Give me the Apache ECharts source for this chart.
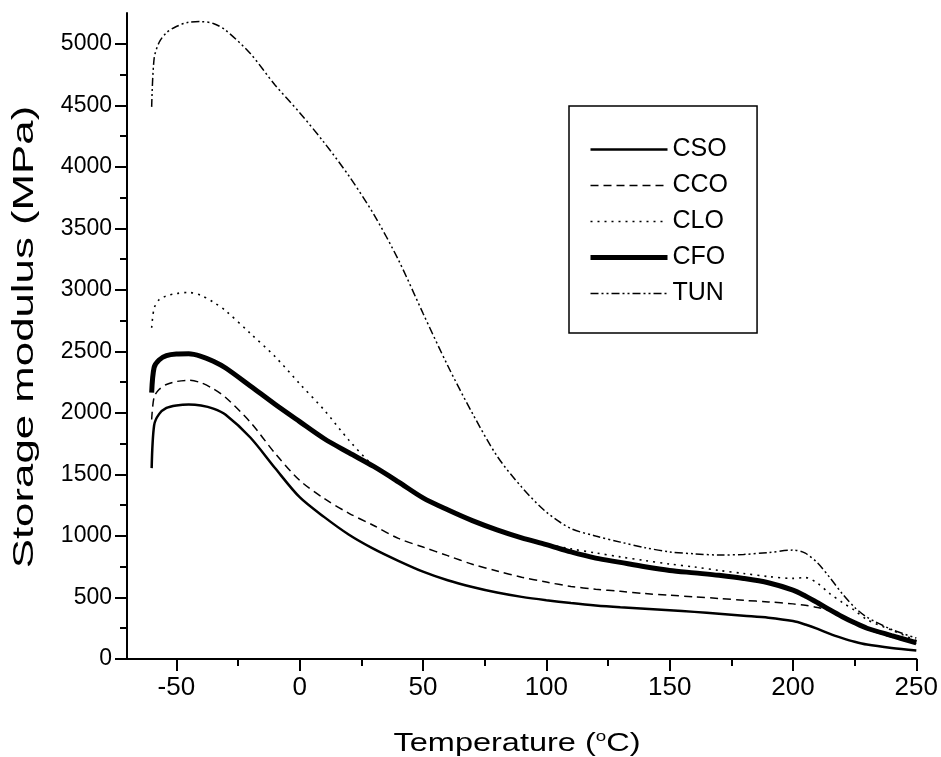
<!DOCTYPE html>
<html>
<head>
<meta charset="utf-8">
<script src="https://cdn.jsdelivr.net/npm/echarts@6/dist/echarts.min.js"></script>
<style>html,body{margin:0;padding:0;background:#fff;}#c{width:941px;height:757px;}</style>
</head>
<body>
<div id="c"></div>
<script>
// ---- data ----
var temps = [-60, -59, -57, -54, -50, -45, -40, -35, -30, -20, -10, 0, 10, 20, 30, 40, 50, 60, 70, 80, 90, 100, 110, 120, 130, 140, 150, 160, 170, 180, 190, 200, 205, 210, 215, 220, 225, 230, 240, 250];
var CSO = [1551, 1900, 1990, 2040, 2060, 2068, 2060, 2035, 1985, 1800, 1552, 1315, 1153, 1010, 895, 798, 710, 640, 585, 540, 505, 478, 455, 435, 420, 408, 396, 383, 368, 352, 336, 308, 280, 245, 204, 170, 140, 117, 90, 70];
var CCO = [1946, 2130, 2190, 2231, 2255, 2265, 2245, 2195, 2125, 1925, 1672, 1452, 1303, 1184, 1085, 980, 910, 840, 770, 715, 665, 625, 590, 567, 550, 532, 518, 505, 492, 477, 464, 448, 436, 418, 392, 338, 288, 242, 178, 125];
var CLO = [2692, 2850, 2920, 2951, 2970, 2979, 2955, 2900, 2830, 2646, 2458, 2237, 2022, 1778, 1570, 1445, 1315, 1218, 1130, 1055, 990, 935, 895, 862, 830, 800, 772, 748, 720, 695, 670, 655, 662, 615, 530, 460, 395, 320, 235, 150];
var CFO = [2164, 2370, 2430, 2465, 2478, 2480, 2460, 2420, 2365, 2219, 2070, 1929, 1790, 1676, 1565, 1440, 1310, 1213, 1125, 1050, 985, 930, 870, 820, 785, 750, 720, 700, 680, 655, 620, 560, 512, 457, 399, 344, 294, 250, 190, 132];
var TUN = [4487, 4880, 5010, 5090, 5140, 5175, 5180, 5165, 5110, 4920, 4665, 4440, 4195, 3925, 3615, 3245, 2810, 2385, 1998, 1650, 1397, 1194, 1060, 1000, 950, 905, 870, 855, 845, 850, 865, 885, 860, 780, 660, 530, 420, 340, 240, 170];
var seriesNames = ['CSO', 'CCO', 'CLO', 'CFO', 'TUN'];
var xMajor = [-50, 0, 50, 100, 150, 200, 250];
var xMinor = [-25, 25, 75, 125, 175, 225];
var yMajor = [0, 500, 1000, 1500, 2000, 2500, 3000, 3500, 4000, 4500, 5000];
var yMinor = [250, 750, 1250, 1750, 2250, 2750, 3250, 3750, 4250, 4750];
var xTitle = '{a|Temperature (}{s|o}{a|C)}';
var yTitle = 'Storage modulus (MPa)';

function pairs(vals) { return temps.map(function (t, i) { return [t, vals[i]]; }); }

var FONT = 'Liberation Sans, Arial, sans-serif';
var NARROW = 'Liberation Sans Narrow, Arial Narrow, Liberation Sans, Arial, sans-serif';
var chart = echarts.init(document.getElementById('c'), null, {renderer: 'canvas'});

var styles = {
  CSO: {color: '#000', width: 2.5, type: 'solid'},
  CCO: {color: '#000', width: 1.5, type: [8, 5]},
  CLO: {color: '#000', width: 1.6, type: [2, 5]},
  CFO: {color: '#000', width: 5, type: 'solid'},
  TUN: {color: '#000', width: 1.5, type: [8, 3, 2, 3, 2, 3]}
};
var dataMap = {CSO: CSO, CCO: CCO, CLO: CLO, CFO: CFO, TUN: TUN};

var series = seriesNames.map(function (n) {
  return {
    name: n, type: 'line', xAxisIndex: 0, yAxisIndex: 0,
    data: pairs(dataMap[n]), showSymbol: false, symbol: 'none',
    smooth: 0.3, lineStyle: styles[n], color: '#000', z: n === 'CFO' ? 3 : 2
  };
});

var axisLineStyle = {color: '#000', width: 2};
function plain(v) { return String(v); }

chart.setOption({
  animation: false,
  backgroundColor: '#fff',
  grid: {left: 127, right: 20, top: 13, bottom: 98, containLabel: false},
  legend: {
    orient: 'vertical', left: 569, top: 106,
    padding: [31, 29, 27, 19],
    itemWidth: 77, itemHeight: 25, itemGap: 11,
    borderColor: '#000', borderWidth: 1.5,
    itemStyle: {opacity: 0},
    textStyle: {fontSize: 25, color: '#000', fontFamily: FONT},
    data: seriesNames.map(function (n) {
      return {name: n, lineStyle: {width: styles[n].width, type: styles[n].type, color: '#000'}, itemStyle: {opacity: 0}};
    })
  },
  graphic: [{
    type: 'text', x: 25, y: 337, rotation: Math.PI / 2, scaleX: 1.46,
    style: {text: yTitle, fontSize: 30, fontFamily: FONT, fill: '#000', align: 'center', verticalAlign: 'middle'}
  }, {
    type: 'text', x: 517, y: 744, scaleX: 1.25,
    style: {text: xTitle, fill: '#000', align: 'center', verticalAlign: 'middle', fontFamily: FONT,
      rich: {
        a: {fontSize: 26, fontFamily: FONT, fill: '#000', lineHeight: 30},
        s: {fontSize: 15, fontFamily: FONT, fill: '#000', verticalAlign: 'top', lineHeight: 30}
      }}
  }],
  xAxis: [{
    type: 'value', min: -70, max: 250,
    axisLine: {show: true, lineStyle: axisLineStyle, onZero: false},
    axisTick: {show: true, customValues: xMajor, length: 12, lineStyle: {width: 2, color: '#000'}},
    axisLabel: {customValues: xMajor, formatter: plain, fontSize: 26, color: '#000', fontFamily: NARROW, margin: 16},
    splitLine: {show: false}
  }, {
    type: 'value', min: -70, max: 250, position: 'bottom',
    axisLine: {show: false, onZero: false},
    axisTick: {show: true, customValues: xMinor, length: 7, lineStyle: {width: 2, color: '#000'}},
    axisLabel: {show: false}, splitLine: {show: false}
  }],
  yAxis: [{
    type: 'value', min: 0, max: 5250,
    axisLine: {show: true, lineStyle: axisLineStyle, onZero: false},
    axisTick: {show: true, customValues: yMajor, length: 12, lineStyle: {width: 2, color: '#000'}},
    axisLabel: {customValues: yMajor, formatter: plain, fontSize: 23, color: '#000', fontFamily: FONT, margin: 15},
    splitLine: {show: false}
  }, {
    type: 'value', min: 0, max: 5250, position: 'left',
    axisLine: {show: false, onZero: false},
    axisTick: {show: true, customValues: yMinor, length: 7, lineStyle: {width: 2, color: '#000'}},
    axisLabel: {show: false}, splitLine: {show: false}
  }],
  series: series
});
</script>
</body>
</html>
